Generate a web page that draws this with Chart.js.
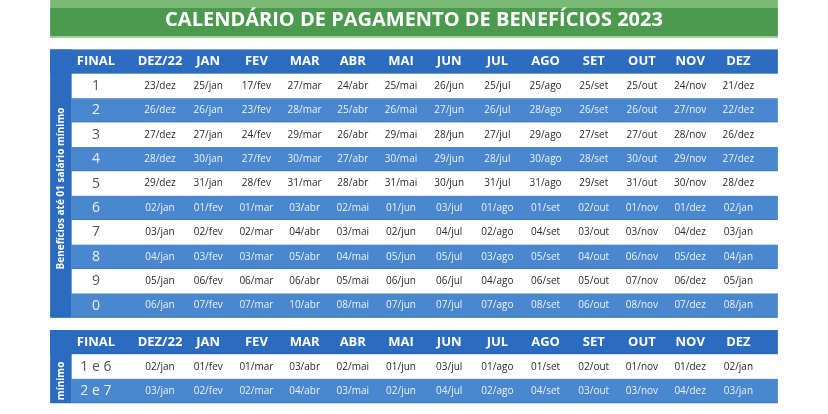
<!DOCTYPE html>
<html><head><meta charset="utf-8">
<script src="https://cdn.jsdelivr.net/npm/chart.js@4.4.0/dist/chart.umd.min.js"></script>
<style>html,body{margin:0;padding:0;background:#fff}canvas{display:block}</style>
</head><body><canvas id="c" width="828" height="414"></canvas>
<script>
const title = "CALENDÁRIO DE PAGAMENTO DE BENEFÍCIOS 2023";
const columns = ["FINAL","DEZ/22","JAN","FEV","MAR","ABR","MAI","JUN","JUL","AGO","SET","OUT","NOV","DEZ"];
const finals1 = ["1","2","3","4","5","6","7","8","9","0"];
const dates1 = [
 ["23/dez","25/jan","17/fev","27/mar","24/abr","25/mai","26/jun","25/jul","25/ago","25/set","25/out","24/nov","21/dez"],
 ["26/dez","26/jan","23/fev","28/mar","25/abr","26/mai","27/jun","26/jul","28/ago","26/set","26/out","27/nov","22/dez"],
 ["27/dez","27/jan","24/fev","29/mar","26/abr","29/mai","28/jun","27/jul","29/ago","27/set","27/out","28/nov","26/dez"],
 ["28/dez","30/jan","27/fev","30/mar","27/abr","30/mai","29/jun","28/jul","30/ago","28/set","30/out","29/nov","27/dez"],
 ["29/dez","31/jan","28/fev","31/mar","28/abr","31/mai","30/jun","31/jul","31/ago","29/set","31/out","30/nov","28/dez"],
 ["02/jan","01/fev","01/mar","03/abr","02/mai","01/jun","03/jul","01/ago","01/set","02/out","01/nov","01/dez","02/jan"],
 ["03/jan","02/fev","02/mar","04/abr","03/mai","02/jun","04/jul","02/ago","04/set","03/out","03/nov","04/dez","03/jan"],
 ["04/jan","03/fev","03/mar","05/abr","04/mai","05/jun","05/jul","03/ago","05/set","04/out","06/nov","05/dez","04/jan"],
 ["05/jan","06/fev","06/mar","06/abr","05/mai","06/jun","06/jul","04/ago","06/set","05/out","07/nov","06/dez","05/jan"],
 ["06/jan","07/fev","07/mar","10/abr","08/mai","07/jun","07/jul","07/ago","08/set","06/out","08/nov","07/dez","08/jan"]
];
const sideLabel1 = "Benefícios até 01 salário mínimo";
const finals2 = ["1 e 6","2 e 7"];
const dates2 = [
 ["02/jan","01/fev","01/mar","03/abr","02/mai","01/jun","03/jul","01/ago","01/set","02/out","01/nov","01/dez","02/jan"],
 ["03/jan","02/fev","02/mar","04/abr","03/mai","02/jun","04/jul","02/ago","04/set","03/out","03/nov","04/dez","03/jan"]
];
const sideLabel2 = "Benefícios acima de 01 salário mínimo";

const FINALX = -0.33, T1 = 0, T2 = 11.5;
const DARK = "#2b6cc1", BAND = "#4b87cf", GREEN = "#4b9a4e";

const tablePlugin = {
  id: 'table',
  beforeDatasetsDraw(chart) {
    const ctx = chart.ctx, xs = chart.scales.x, ys = chart.scales.y;
    const X = v => xs.getPixelForValue(v), Y = v => ys.getPixelForValue(v);
    const left = X(-1.28), right = X(13.82), strip = X(-0.83);
    const colX = i => i === 0 ? X(FINALX) : X(i);
    ctx.save();
    ctx.fillStyle = "#79bb76"; ctx.fillRect(left, 0, right-left, Y(-2.2));
    ctx.fillStyle = GREEN; ctx.fillRect(left, Y(-2.2), right-left, Y(-1.05)-Y(-2.2));
    ctx.fillStyle = "#9bd198"; ctx.fillRect(left, Y(-1.05), right-left, 2);
    ctx.fillStyle = "#fff"; ctx.font = "bold 20px 'Open Sans'"; ctx.textAlign = "center"; ctx.textBaseline = "middle";
    ctx.fillText(title, (left+right)/2, Y(-1.68));
    function table(t0, finals, dates, side, sideCenter) {
      const n = finals.length;
      ctx.fillStyle = DARK; ctx.fillRect(left, Y(t0-0.5), right-left, Y(t0+0.5)-Y(t0-0.5));
      ctx.fillRect(left, Y(t0-0.5), strip-left, Y(t0+n+0.5)-Y(t0-0.5));
      for (let r = 0; r < n; r++) {
        const v = t0 + 1 + r;
        ctx.fillStyle = r % 2 ? BAND : "#fff";
        ctx.fillRect(strip, Y(v-0.5), right-strip, Y(v+0.5)-Y(v-0.5));
        if (r % 2) { ctx.fillStyle = "rgba(0,0,0,0.08)"; ctx.fillRect(strip, Y(v+0.5)-1.5, right-strip, 1.5); }
      }
      ctx.fillStyle = "#fff"; ctx.font = "bold 13px 'Open Sans'";
      columns.forEach((c,i) => ctx.fillText(c, colX(i), Y(t0)));
      for (let r = 0; r < n; r++) {
        const v = t0 + 1 + r, onBand = r % 2 === 1;
        ctx.font = "14px 'Open Sans'"; ctx.fillStyle = onBand ? "#e8f0fb" : "#555";
        ctx.fillText(finals[r], colX(0), Y(v));
        ctx.font = "10px 'Open Sans'"; ctx.fillStyle = onBand ? "#e8f0fb" : "#2a2a2a";
        dates[r].forEach((d,i) => ctx.fillText(d, colX(i+1), Y(v)));
      }
      ctx.save();
      ctx.beginPath(); ctx.rect(left, Y(t0-0.5), strip-left, Y(t0+n+0.5)-Y(t0-0.5)); ctx.clip();
      ctx.translate((left+strip)/2, Y(sideCenter));
      ctx.rotate(-Math.PI/2); ctx.fillStyle = "#fff"; ctx.font = "bold 10px 'Open Sans'";
      ctx.fillText(side, 0, 0);
      ctx.restore();
    }
    table(T1, finals1, dates1, sideLabel1, 5.2);
    table(T2, finals2, dates2, sideLabel2, 16.2);
    ctx.restore();
  }
};

new Chart(document.getElementById('c'), {
  type: 'scatter',
  data: { datasets: [{ data: [], pointRadius: 0 }] },
  options: {
    responsive: false, animation: false,
    layout: { padding: 0 },
    plugins: { legend: { display: false }, tooltip: { enabled: false } },
    scales: {
      x: { type: 'linear', min: -2.32, max: 14.86, display: false },
      y: { type: 'linear', min: -2.525, max: 14.44, reverse: true, display: false }
    }
  },
  plugins: [tablePlugin]
});
</script></body></html>
